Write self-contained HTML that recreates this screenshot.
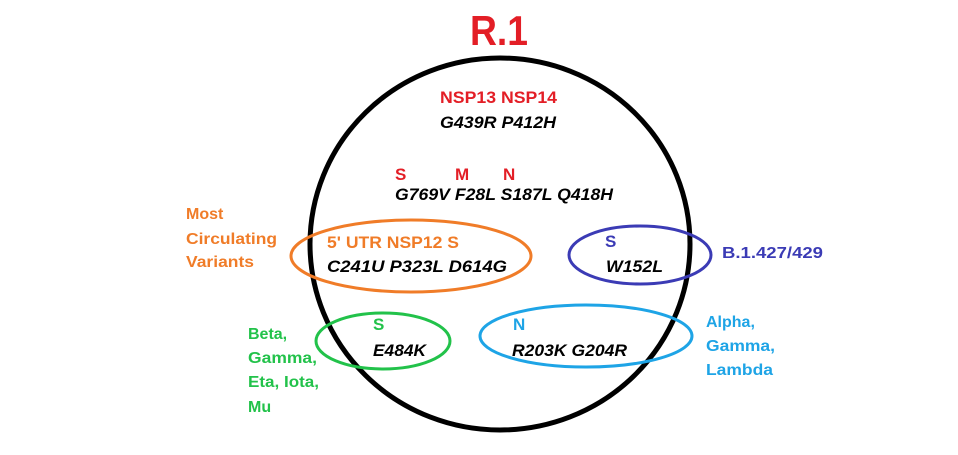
<!DOCTYPE html>
<html><head><meta charset="utf-8"><style>
html,body{margin:0;padding:0;background:#fff;}
svg{display:block;}
text{font-family:"Liberation Sans",sans-serif;font-weight:bold;}
</style></head><body>
<svg width="958" height="455" viewBox="0 0 958 455" xmlns="http://www.w3.org/2000/svg">
<rect width="958" height="455" fill="#fff"/>
<text x="470" y="45" font-size="42" fill="#e31e26" textLength="58" lengthAdjust="spacingAndGlyphs">R.1</text>
<ellipse cx="500" cy="244" rx="190" ry="186" fill="none" stroke="#000" stroke-width="5"/>
<ellipse cx="411" cy="256" rx="120" ry="36" fill="none" stroke="#f07c28" stroke-width="3"/>
<ellipse cx="640" cy="255" rx="71" ry="29" fill="none" stroke="#3b3bb5" stroke-width="3"/>
<ellipse cx="383" cy="341" rx="67" ry="28" fill="none" stroke="#22c24a" stroke-width="3"/>
<ellipse cx="586" cy="336" rx="106" ry="31" fill="none" stroke="#1ea4e6" stroke-width="3"/>
<g font-size="17">
<text x="440" y="103" fill="#e31e26" textLength="117" lengthAdjust="spacingAndGlyphs">NSP13 NSP14</text>
<text x="440" y="128" fill="#000" font-style="italic" textLength="116" lengthAdjust="spacingAndGlyphs">G439R P412H</text>
<text x="395" y="180" fill="#e31e26">S</text>
<text x="455" y="180" fill="#e31e26">M</text>
<text x="503" y="180" fill="#e31e26">N</text>
<text x="395" y="200" fill="#000" font-style="italic" textLength="218" lengthAdjust="spacingAndGlyphs">G769V F28L S187L Q418H</text>
<text x="327" y="248" fill="#f07c28" textLength="132" lengthAdjust="spacingAndGlyphs">5' UTR NSP12 S</text>
<text x="327" y="272" fill="#000" font-style="italic" textLength="180" lengthAdjust="spacingAndGlyphs">C241U P323L  D614G</text>
<text x="605" y="247" fill="#3b3bb5">S</text>
<text x="606" y="272" fill="#000" font-style="italic" textLength="57" lengthAdjust="spacingAndGlyphs">W152L</text>
<text x="373" y="330" fill="#22c24a">S</text>
<text x="373" y="356" fill="#000" font-style="italic" textLength="53" lengthAdjust="spacingAndGlyphs">E484K</text>
<text x="513" y="330" fill="#1ea4e6">N</text>
<text x="512" y="356" fill="#000" font-style="italic" textLength="115" lengthAdjust="spacingAndGlyphs">R203K G204R</text>
</g>
<g font-size="16">
<text x="186" y="219" fill="#f07c28">Most</text>
<text x="186" y="244" fill="#f07c28" textLength="91" lengthAdjust="spacingAndGlyphs">Circulating</text>
<text x="186" y="267" fill="#f07c28" textLength="68" lengthAdjust="spacingAndGlyphs">Variants</text>
<text x="722" y="258" fill="#3b3bb5" textLength="101" lengthAdjust="spacingAndGlyphs">B.1.427/429</text>
<text x="248" y="339" fill="#22c24a">Beta,</text>
<text x="248" y="363" fill="#22c24a" textLength="69" lengthAdjust="spacingAndGlyphs">Gamma,</text>
<text x="248" y="387" fill="#22c24a" textLength="71" lengthAdjust="spacingAndGlyphs">Eta, Iota,</text>
<text x="248" y="412" fill="#22c24a">Mu</text>
<text x="706" y="327" fill="#1ea4e6">Alpha,</text>
<text x="706" y="351" fill="#1ea4e6" textLength="69" lengthAdjust="spacingAndGlyphs">Gamma,</text>
<text x="706" y="375" fill="#1ea4e6" textLength="67" lengthAdjust="spacingAndGlyphs">Lambda</text>
</g>
</svg>
</body></html>
